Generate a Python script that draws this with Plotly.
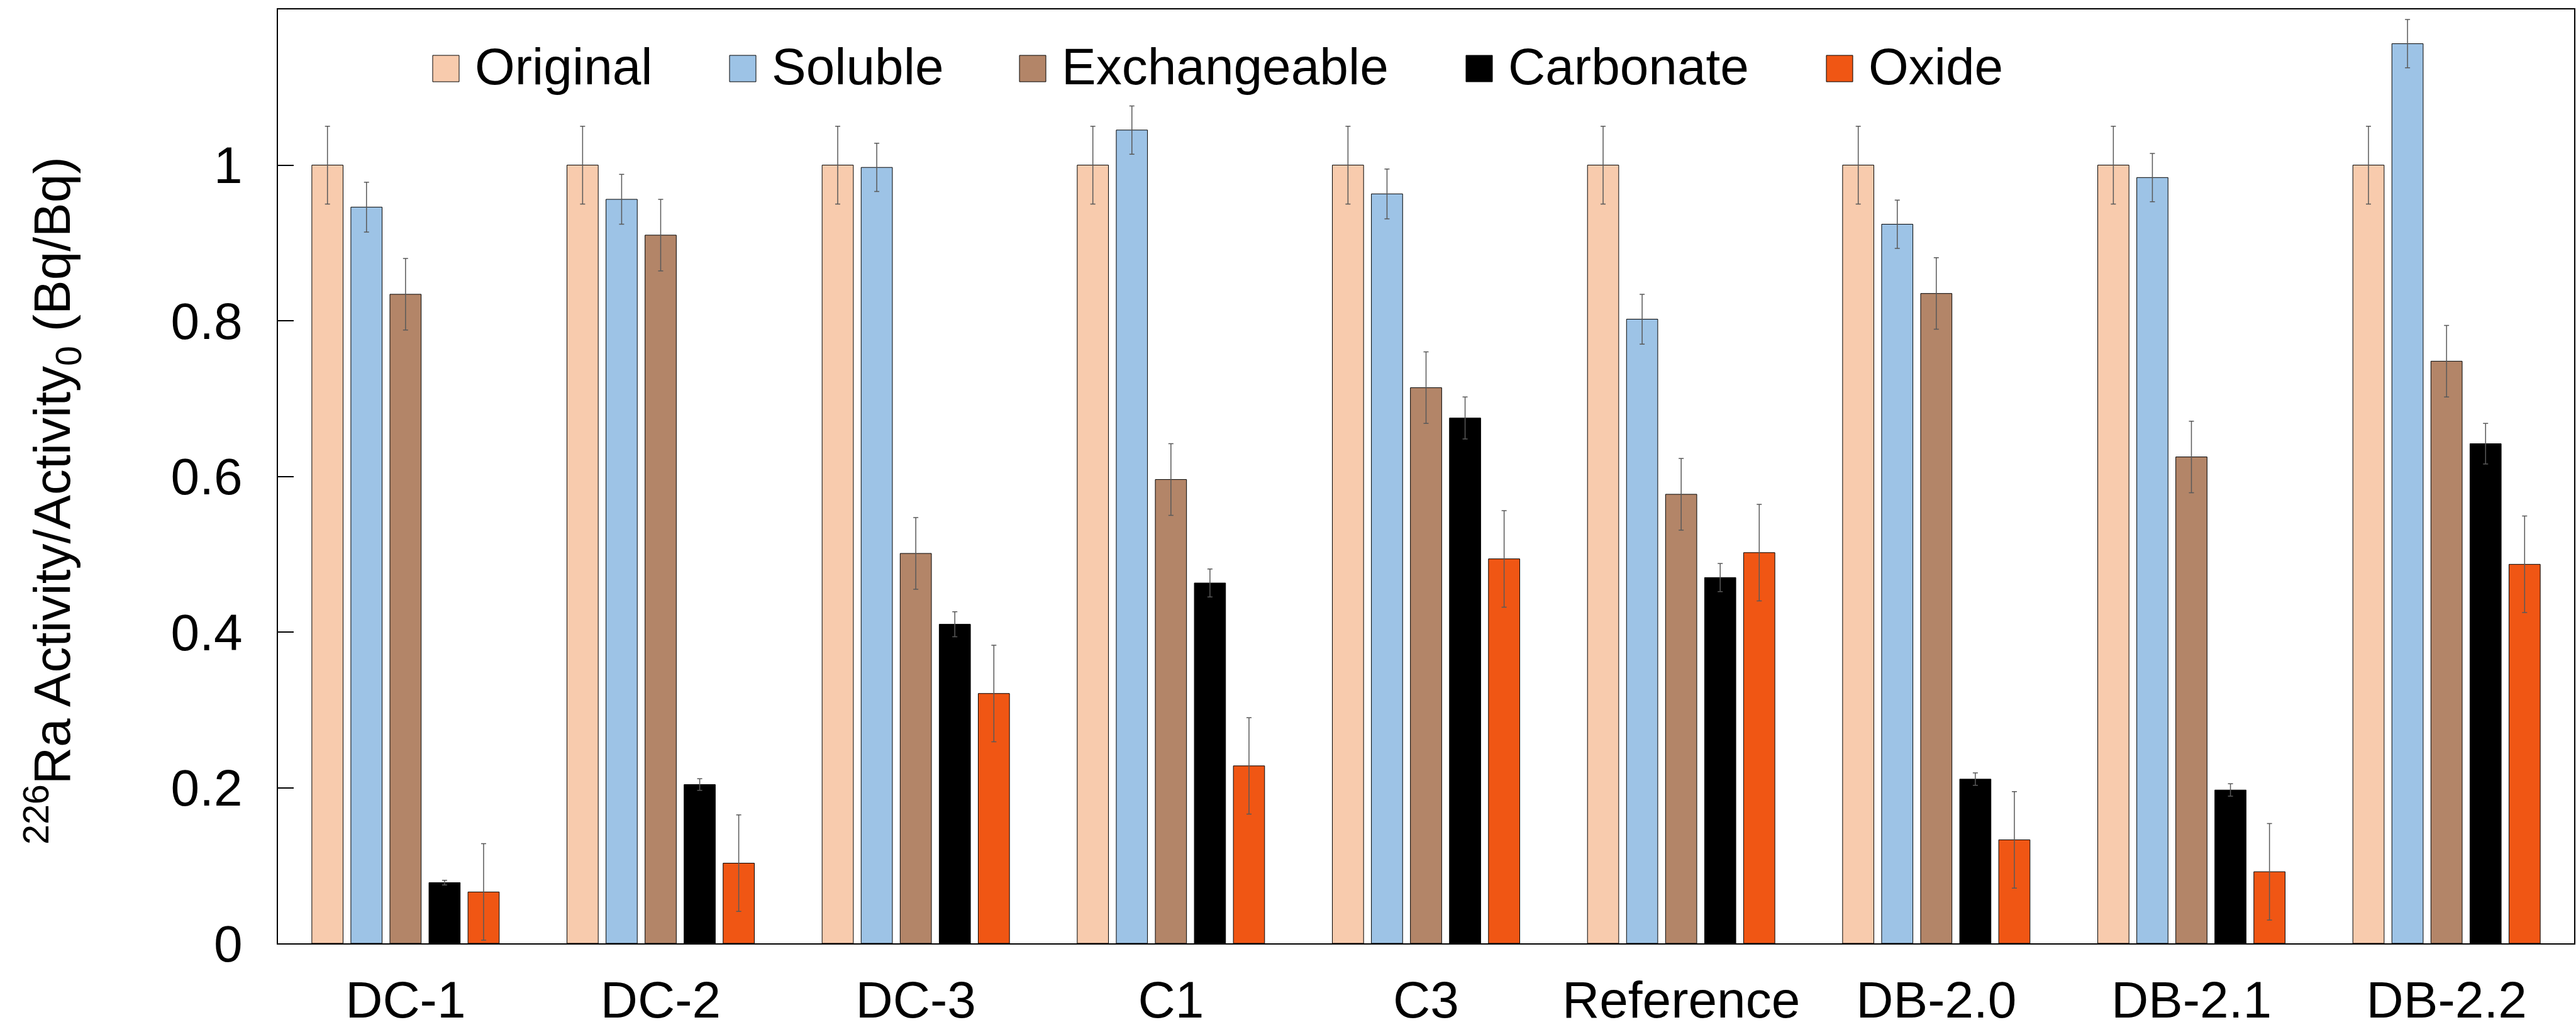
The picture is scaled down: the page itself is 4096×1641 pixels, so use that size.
import plotly.graph_objects as go

# Samples and leaching fractions
samples = ["DC-1", "DC-2", "DC-3", "C1", "C3", "Reference", "DB-2.0", "DB-2.1", "DB-2.2"]
fractions = ["Original", "Soluble", "Exchangeable", "Carbonate", "Oxide"]

# Normalised 226Ra activity remaining after each step
original = [1.0, 1.0, 1.0, 1.0, 1.0, 1.0, 1.0, 1.0, 1.0]
soluble = [0.946, 0.956, 0.997, 1.045, 0.963, 0.802, 0.924, 0.984, 1.156]
exchangeable = [0.834, 0.910, 0.501, 0.596, 0.714, 0.577, 0.835, 0.625, 0.748]
carbonate = [0.078, 0.204, 0.410, 0.463, 0.675, 0.470, 0.211, 0.197, 0.642]
oxide = [0.066, 0.103, 0.321, 0.228, 0.494, 0.502, 0.133, 0.092, 0.487]

# Measurement uncertainties (one standard deviation)
original_err = [0.050, 0.050, 0.050, 0.050, 0.050, 0.050, 0.050, 0.050, 0.050]
soluble_err = [0.032, 0.032, 0.031, 0.031, 0.032, 0.032, 0.031, 0.031, 0.031]
exchangeable_err = [0.046, 0.046, 0.046, 0.046, 0.046, 0.046, 0.046, 0.046, 0.046]
carbonate_err = [0.003, 0.0075, 0.016, 0.018, 0.027, 0.018, 0.008, 0.008, 0.026]
oxide_err = [0.062, 0.062, 0.062, 0.062, 0.062, 0.062, 0.062, 0.062, 0.062]

y_ticks = [0, 0.2, 0.4, 0.6, 0.8, 1.0]
y_tick_text = ["0", "0.2", "0.4", "0.6", "0.8", "1"]

colors = ["#F8CBAD", "#9DC3E6", "#B38568", "#000000", "#F05614"]
values = [original, soluble, exchangeable, carbonate, oxide]
errors = [original_err, soluble_err, exchangeable_err, carbonate_err, oxide_err]

FONT = "Arial, 'Liberation Sans', sans-serif"
W, H = 4096, 1641
ML, MR, MT, MB = 442, 3, 15, 141
PW = W - ML - MR
PH = H - MT - MB

fig = go.Figure()
for name, vals, errs, col in zip(fractions, values, errors, colors):
    fig.add_trace(go.Bar(
        name=name, x=samples, y=vals,
        marker=dict(color=col, line=dict(color="#000000", width=1)),
        error_y=dict(type="data", array=errs, visible=True,
                     color="#595959", thickness=1.5, width=4),
        showlegend=False,
    ))

# Legend drawn as large square swatches with labels along the top of the plot
legend_left_px = [688, 1160, 1621, 2331, 2904]   # swatch left edges in page pixels
swatch = 42
sw_top, sw_bot = 88, 130
shapes, annotations = [], []
for name, col, lx in zip(fractions, colors, legend_left_px):
    x0 = (lx - ML) / PW
    x1 = (lx + swatch - ML) / PW
    shapes.append(dict(type="rect", xref="paper", yref="paper",
                       x0=x0, x1=x1,
                       y0=(H - MB - sw_bot) / PH, y1=(H - MB - sw_top) / PH,
                       fillcolor=col, line=dict(color="#000000", width=1)))
    annotations.append(dict(xref="paper", yref="paper",
                            x=(lx + swatch + 23 - ML) / PW,
                            y=(H - MB - 106) / PH,
                            xanchor="left", yanchor="middle", showarrow=False,
                            text=name, font=dict(family=FONT, size=82, color="#000000")))

# Y axis title
annotations.append(dict(xref="paper", yref="paper",
                        x=(83 - ML) / PW, y=(H - MB - 796) / PH,
                        xanchor="center", yanchor="middle", showarrow=False,
                        textangle=-90,
                        text="<sup>226</sup>Ra Activity/Activity<sub>0</sub> (Bq/Bq)",
                        font=dict(family=FONT, size=82, color="#000000")))

fig.update_layout(
    width=W, height=H,
    margin=dict(l=ML, r=MR, t=MT, b=MB, autoexpand=False),
    paper_bgcolor="#FFFFFF", plot_bgcolor="#FFFFFF",
    barmode="group", bargap=0.235, bargroupgap=0.2,
    font=dict(family=FONT, size=82, color="#000000"),
    shapes=shapes, annotations=annotations,
    xaxis=dict(range=[-0.5, 8.5], showline=True, linecolor="#000000", linewidth=2,
               mirror=True, ticks="", showgrid=False, zeroline=False,
               tickfont=dict(family=FONT, size=82, color="#000000"),
               ticklabelstandoff=18),
    yaxis=dict(range=[0, 1.2], tickvals=y_ticks, ticktext=y_tick_text,
               showline=True, linecolor="#000000", linewidth=2, mirror=True,
               ticks="inside", ticklen=25, tickwidth=2, tickcolor="#000000",
               showgrid=False, zeroline=False,
               tickfont=dict(family=FONT, size=82, color="#000000"),
               ticklabelstandoff=38),
)

fig.write_html("out.html")
